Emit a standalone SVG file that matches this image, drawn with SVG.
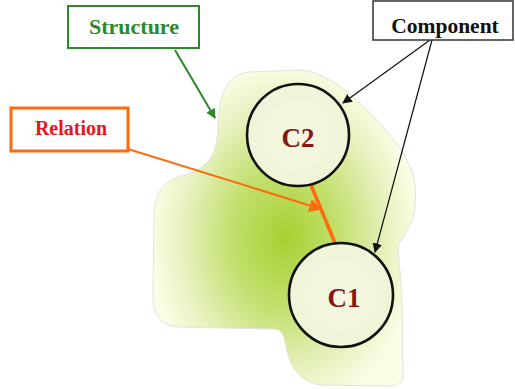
<svg xmlns="http://www.w3.org/2000/svg" width="515" height="389" viewBox="0 0 515 389">
<style>
.lbl{font-family:"Liberation Serif","Times New Roman",serif;font-weight:bold;text-anchor:middle}
.circ{fill:url(#cg);stroke:#111;stroke-width:2.6}
.ctext{font-family:"Liberation Serif","Times New Roman",serif;font-weight:bold;font-size:27px;fill:#8b1414;text-anchor:middle}
</style>
<defs>
<radialGradient id="bg" gradientUnits="userSpaceOnUse" cx="285" cy="238" r="135" gradientTransform="translate(285 238) scale(1 1.3) translate(-285 -238)">
<stop offset="0" stop-color="#a6d132"/>
<stop offset="0.4" stop-color="#c3df6e"/>
<stop offset="0.75" stop-color="#e6f1bd"/>
<stop offset="1" stop-color="#fcfde6"/>
</radialGradient>
<radialGradient id="cg" cx="0.5" cy="0.5" r="0.6">
<stop offset="0" stop-color="#f4f8e2"/>
<stop offset="1" stop-color="#eef4d6"/>
</radialGradient>
<marker id="ag" viewBox="0 0 10 10" refX="9" refY="5" markerWidth="5" markerHeight="5" orient="auto" markerUnits="strokeWidth"><path d="M0,0 L10,5 L0,10 z" fill="#2a8a2a"/></marker>
<marker id="ao" viewBox="0 0 10 10" refX="9" refY="5" markerWidth="6.5" markerHeight="6.5" orient="auto" markerUnits="strokeWidth"><path d="M0,0 L10,5 L0,10 z" fill="#ff6a10"/></marker>
<marker id="ak" viewBox="0 0 10 10" refX="9" refY="5" markerWidth="8" markerHeight="8" orient="auto" markerUnits="strokeWidth"><path d="M0,0 L10,5 L0,10 z" fill="#111"/></marker>
</defs>
<rect width="515" height="389" fill="#fff"/>
<g id="structure-shape">
<path d="M218,130 C218,96 226,74 250,72 L300,70 C330,72 360,100 390,135 C410,160 418,180 415,205 C413,225 405,235 398,245 L402,300 L403,375 Q403,386 390,386 L320,385 C296,382 288,360 285,342 C283,331 280,329 270,329 L180,327 C160,326 153,315 153,295 L154,215 C155,190 165,180 185,175 C205,168 216,160 218,130 Z" fill="url(#bg)" stroke="#e2e2dc" stroke-width="1"/>
</g>
<g id="connectors">
<line x1="175" y1="50" x2="215" y2="118" stroke="#2a8a2a" stroke-width="2" marker-end="url(#ag)"/>
<line x1="128" y1="149" x2="321" y2="209" stroke="#ff6a10" stroke-width="2" marker-end="url(#ao)"/>
<line x1="311" y1="185" x2="335" y2="243" stroke="#ff6a10" stroke-width="3.5"/>
<line x1="430" y1="40" x2="343" y2="103" stroke="#111" stroke-width="1.2" marker-end="url(#ak)"/>
<line x1="432" y1="40" x2="375" y2="252" stroke="#111" stroke-width="1.2" marker-end="url(#ak)"/>
</g>
<g id="c2">
<circle class="circ" cx="298" cy="135" r="51"/>
<text class="ctext" x="298" y="147">C2</text>
</g>
<g id="c1">
<circle class="circ" cx="341" cy="295" r="52"/>
<text class="ctext" x="344" y="307">C1</text>
</g>
<g id="structure">
<rect x="68" y="6" width="131" height="42" fill="#fff" stroke="#2a8a2a" stroke-width="2"/>
<text class="lbl" x="134" y="34" font-size="22" fill="#2a8a2a">Structure</text>
</g>
<g id="component">
<rect x="373" y="1" width="140" height="39" fill="#fff" stroke="#333" stroke-width="1.5"/>
<text class="lbl" x="445" y="33" font-size="21.5" fill="#111">Component</text>
</g>
<g id="relation">
<rect x="11" y="108" width="117" height="43" fill="#fff" stroke="#ff6a10" stroke-width="3"/>
<text class="lbl" x="71" y="135" font-size="20" fill="#e8141e">Relation</text>
</g>
</svg>
